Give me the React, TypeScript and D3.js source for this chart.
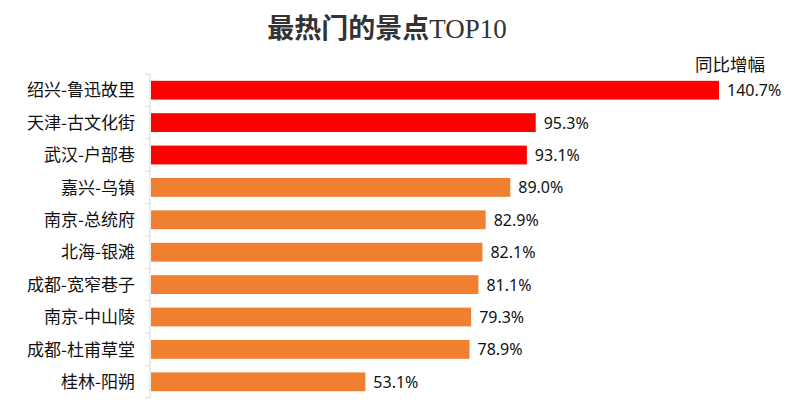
import { useEffect, useRef } from 'react'
import * as d3 from 'd3'

const categories = ['绍兴-鲁迅故里', '天津-古文化街', '武汉-户部巷', '嘉兴-乌镇', '南京-总统府', '北海-银滩', '成都-宽窄巷子', '南京-中山陵', '成都-杜甫草堂', '桂林-阳朔']
const growth = [140.7, 95.3, 93.1, 89.0, 82.9, 82.1, 81.1, 79.3, 78.9, 53.1]
const highlightCount = 3

const width = 792
const height = 410

export default function App() {
  const ref = useRef<SVGSVGElement>(null)

  useEffect(() => {
    if (!ref.current) return
    const svg = d3.select(ref.current)
    svg.selectAll('*').remove()

    const left = 150
    const top = 74
    const bottom = 398

    const x = d3.scaleLinear().domain([0, 140.7]).range([left + 1, 719])
    const y = d3.scaleBand<string>().domain(categories).range([top, bottom]).paddingInner(0.42).paddingOuter(0.21)

    // title
    const title = svg.append('text')
      .attr('x', 387)
      .attr('y', 38)
      .attr('text-anchor', 'middle')
      .attr('fill', '#333333')
      .style('font-size', '27px')
    title.append('tspan')
      .style('font-family', '"Noto Sans CJK SC", sans-serif')
      .style('font-weight', 'bold')
      .text('最热门的景点')
    title.append('tspan')
      .style('font-family', '"Liberation Serif", serif')
      .text('TOP10')

    svg.append('text')
      .attr('x', 730)
      .attr('y', 71)
      .attr('text-anchor', 'middle')
      .style('font-family', '"Noto Sans CJK SC", sans-serif')
      .style('font-size', '17.5px')
      .attr('fill', '#111')
      .text('同比增幅')

    // axis with ticks on band boundaries
    const axis = svg.append('g')
    axis.append('line')
      .attr('x1', left).attr('x2', left)
      .attr('y1', top).attr('y2', bottom)
      .attr('stroke', '#d9d9d9')
    const step = y.step()
    d3.range(categories.length + 1).forEach(i => {
      const ty = top + i * step
      axis.append('line')
        .attr('x1', left - 5).attr('x2', left)
        .attr('y1', ty).attr('y2', ty)
        .attr('stroke', '#d9d9d9')
    })

    const rows = svg.append('g').selectAll('g')
      .data(categories)
      .enter()
      .append('g')

    rows.append('rect')
      .attr('x', x(0))
      .attr('y', d => y(d)!)
      .attr('width', (d, i) => x(growth[i]) - x(0))
      .attr('height', y.bandwidth())
      .attr('fill', (d, i) => i < highlightCount ? '#ff0000' : '#f07f30')

    rows.append('text')
      .attr('x', left - 15)
      .attr('y', d => y(d)! + y.bandwidth() / 2)
      .attr('dy', '0.36em')
      .attr('text-anchor', 'end')
      .style('font-family', '"Noto Sans CJK SC", sans-serif')
      .style('font-size', '17px')
      .attr('fill', '#111')
      .text(d => d)

    rows.append('text')
      .attr('x', (d, i) => x(growth[i]) + 8)
      .attr('y', d => y(d)! + y.bandwidth() / 2)
      .attr('dy', '0.38em')
      .style('font-family', '"Noto Sans", sans-serif')
      .style('font-size', '16px')
      .attr('fill', '#111')
      .text((d, i) => growth[i].toFixed(1) + '%')
  }, [])

  return (
    <svg ref={ref} width={width} height={height} style={{ position: 'absolute', left: 0, top: 0, background: '#fff' }} />
  )
}
